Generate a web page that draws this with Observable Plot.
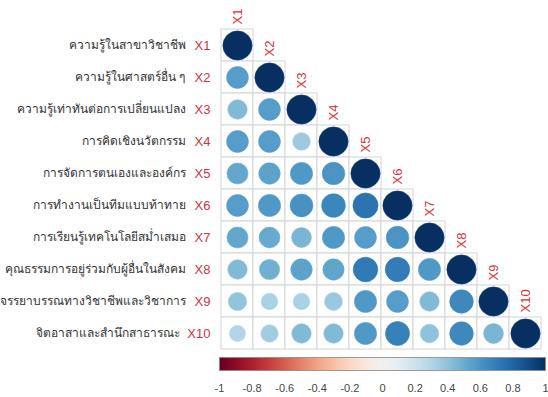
<!DOCTYPE html>
<html>
<head>
<meta charset="utf-8">
<script src="https://cdn.jsdelivr.net/npm/d3@7"></script>
<script src="https://cdn.jsdelivr.net/npm/@observablehq/plot@0.6"></script>
<style>
  html, body { margin: 0; padding: 0; background: #fff; }
  #chart { width: 548px; height: 397px; position: relative; }
  #chart svg { display: block; }
</style>
</head>
<body>
<div id="chart"></div>
<script>
// Variable codes and their Thai descriptions
const codes = ["X1", "X2", "X3", "X4", "X5", "X6", "X7", "X8", "X9", "X10"];
const thaiNames = [
  "ความรู้ในสาขาวิชาชีพ",
  "ความรู้ในศาสตร์อื่น ๆ",
  "ความรู้เท่าทันต่อการเปลี่ยนแปลง",
  "การคิดเชิงนวัตกรรม",
  "การจัดการตนเองและองค์กร",
  "การทำงานเป็นทีมแบบท้าทาย",
  "การเรียนรู้เทคโนโลยีสม่ำเสมอ",
  "คุณธรรมการอยู่ร่วมกับผู้อื่นในสังคม",
  "จรรยาบรรณทางวิชาชีพและวิชาการ",
  "จิตอาสาและสำนึกสาธารณะ"
];

// Lower triangle of the correlation matrix, one row per variable (diagonal excluded)
const rowX1 = [];
const rowX2 = [0.56];
const rowX3 = [0.44, 0.56];
const rowX4 = [0.56, 0.56, 0.36];
const rowX5 = [0.52, 0.54, 0.58, 0.60];
const rowX6 = [0.56, 0.58, 0.61, 0.66, 0.74];
const rowX7 = [0.52, 0.51, 0.46, 0.58, 0.56, 0.60];
const rowX8 = [0.44, 0.48, 0.54, 0.53, 0.71, 0.70, 0.58];
const rowX9 = [0.39, 0.32, 0.32, 0.37, 0.58, 0.56, 0.44, 0.65];
const rowX10 = [0.30, 0.35, 0.44, 0.44, 0.58, 0.68, 0.40, 0.65, 0.46];
const diagonal = 1;

// Color bar tick labels
const barTicks = [-1, -0.8, -0.6, -0.4, -0.2, 0, 0.2, 0.4, 0.6, 0.8, 1];

const rows = [rowX1, rowX2, rowX3, rowX4, rowX5, rowX6, rowX7, rowX8, rowX9, rowX10];
const cells = [];
rows.forEach((vals, i) => {
  vals.forEach((v, j) => cells.push({row: codes[i], col: codes[j], r: v}));
  cells.push({row: codes[i], col: codes[i], r: diagonal});
});
const diag = codes.map(c => ({code: c}));
const thaiOf = Object.fromEntries(codes.map((c, i) => [c, thaiNames[i]]));

const labelRed = "#d1343c";
const fontFamily = "Arial, 'Liberation Sans', 'DejaVu Sans', sans-serif";
const colorScale = {type: "linear", domain: [-1, 1], scheme: "rdbu"};

const main = Plot.plot({
  width: 548,
  height: 355,
  marginTop: 27,
  marginBottom: 4,
  marginLeft: 219,
  marginRight: 5,
  style: {fontFamily, background: "#fff"},
  x: {domain: codes, padding: 0, axis: null},
  y: {domain: codes, padding: 0, axis: null},
  r: {type: "sqrt", domain: [0, 1], range: [0, 14.6]},
  color: colorScale,
  marks: [
    Plot.cell(cells, {x: "col", y: "row", fill: "#fff", stroke: "#d4d4d4", strokeWidth: 1}),
    Plot.dot(cells, {x: "col", y: "row", r: d => Math.abs(d.r), fill: "r", stroke: "r", strokeWidth: 0.6}),
    // Red variable codes next to the matrix
    Plot.axisY({tickSize: 0, tickPadding: 9, fontSize: 13, fill: labelRed}),
    // Thai descriptions to the left of the codes (the two-digit code needs more room)
    Plot.axisY({ticks: codes.slice(0, 9), tickSize: 0, tickPadding: 34, fontSize: 12, fill: "#333", tickFormat: d => thaiOf[d]}),
    Plot.axisY({ticks: codes.slice(9), tickSize: 0, tickPadding: 40, fontSize: 12, fill: "#333", tickFormat: d => thaiOf[d]}),
    // Column codes above the diagonal
    Plot.text(diag, {
      x: "code", y: "code", text: "code",
      rotate: -90, textAnchor: "start", lineAnchor: "middle",
      dy: -21, fontSize: 13, fill: labelRed
    })
  ]
});

const bar = Plot.plot({
  width: 548,
  height: 42,
  marginTop: 2,
  marginBottom: 27,
  marginLeft: 219,
  marginRight: 3,
  style: {fontFamily, background: "#fff"},
  x: {domain: [-1, 1], axis: null},
  y: {domain: [0, 1], axis: null},
  color: colorScale,
  marks: [
    Plot.raster({x1: -1, x2: 1, y1: 0, y2: 1, width: 326, height: 1, fill: (x) => x}),
    Plot.frame({stroke: "#888", strokeWidth: 0.8}),
    Plot.axisX({ticks: barTicks, tickSize: 0, tickPadding: 14, fontSize: 11, fill: "#444", tickFormat: d => String(+d.toFixed(1))})
  ]
});

const root = document.getElementById("chart");
root.appendChild(main);
root.appendChild(bar);
</script>
</body>
</html>
